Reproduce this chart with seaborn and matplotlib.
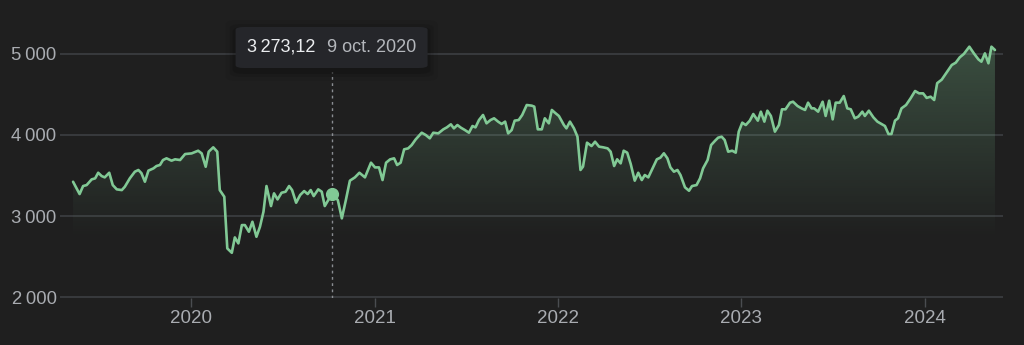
import matplotlib
matplotlib.use("Agg")
import numpy as np
import pandas as pd
import matplotlib.pyplot as plt
import matplotlib.dates as mdates
from matplotlib.colors import to_rgb
from matplotlib.patches import FancyBboxPatch
from matplotlib.ticker import FuncFormatter
import seaborn as sns

# weekly closes
dates = [
    "2019-05-12", "2019-05-25", "2019-06-01", "2019-06-08", "2019-06-18", "2019-06-25",
    "2019-07-01", "2019-07-08", "2019-07-14", "2019-07-23", "2019-07-30", "2019-08-07",
    "2019-08-17", "2019-08-23", "2019-09-02", "2019-09-12", "2019-09-19", "2019-09-25",
    "2019-10-02", "2019-10-09", "2019-10-19", "2019-10-25", "2019-11-01", "2019-11-07",
    "2019-11-14", "2019-11-24", "2019-12-01", "2019-12-11", "2019-12-21",
    "2020-01-03", "2020-01-16", "2020-01-23", "2020-01-31", "2020-02-06", "2020-02-15",
    "2020-02-23", "2020-02-28", "2020-03-08", "2020-03-14", "2020-03-23", "2020-03-29",
    "2020-04-05", "2020-04-12", "2020-04-18", "2020-04-26", "2020-05-03", "2020-05-11",
    "2020-05-18", "2020-05-25", "2020-05-31", "2020-06-09", "2020-06-15", "2020-06-22",
    "2020-06-30", "2020-07-08", "2020-07-15", "2020-07-21", "2020-07-29", "2020-08-06",
    "2020-08-14", "2020-08-21", "2020-08-27", "2020-09-02", "2020-09-11", "2020-09-18",
    "2020-09-24", "2020-10-01", "2020-10-09", "2020-10-20", "2020-10-28", "2020-11-05",
    "2020-11-13", "2020-11-23", "2020-12-02", "2020-12-13", "2020-12-25",
    "2021-01-02", "2021-01-10", "2021-01-17", "2021-01-24", "2021-02-01", "2021-02-09",
    "2021-02-15", "2021-02-22", "2021-03-01", "2021-03-09", "2021-03-16", "2021-03-24",
    "2021-04-05", "2021-04-13", "2021-04-21", "2021-04-28", "2021-05-08", "2021-05-18",
    "2021-05-25", "2021-06-02", "2021-06-08", "2021-06-15", "2021-06-22", "2021-06-30",
    "2021-07-08", "2021-07-15", "2021-07-21", "2021-07-28", "2021-08-05", "2021-08-12",
    "2021-08-20", "2021-08-27", "2021-09-04", "2021-09-11", "2021-09-18", "2021-09-24",
    "2021-10-01", "2021-10-07", "2021-10-15", "2021-10-22", "2021-10-31", "2021-11-10",
    "2021-11-15", "2021-11-22", "2021-11-30", "2021-12-06", "2021-12-14", "2021-12-20",
    "2021-12-26",
    "2022-01-03", "2022-01-13", "2022-01-18", "2022-01-25", "2022-02-02", "2022-02-09",
    "2022-02-15", "2022-02-20", "2022-02-28", "2022-03-09", "2022-03-16", "2022-03-24",
    "2022-04-01", "2022-04-10", "2022-04-16", "2022-04-23", "2022-04-29", "2022-05-06",
    "2022-05-12", "2022-05-19", "2022-05-26", "2022-06-03", "2022-06-10", "2022-06-17",
    "2022-06-23", "2022-06-30", "2022-07-07", "2022-07-17", "2022-07-24", "2022-07-31",
    "2022-08-07", "2022-08-13", "2022-08-20", "2022-08-27", "2022-09-02", "2022-09-11",
    "2022-09-19", "2022-09-25", "2022-10-04", "2022-10-11", "2022-10-17", "2022-10-26",
    "2022-11-02", "2022-11-10", "2022-11-16", "2022-11-23", "2022-11-29", "2022-12-06",
    "2022-12-14", "2022-12-21", "2022-12-27",
    "2023-01-03", "2023-01-10", "2023-01-18", "2023-01-25", "2023-02-03", "2023-02-09",
    "2023-02-16", "2023-02-22", "2023-03-01", "2023-03-09", "2023-03-17", "2023-03-23",
    "2023-03-30", "2023-04-08", "2023-04-14", "2023-04-23", "2023-05-01", "2023-05-08",
    "2023-05-14", "2023-05-21", "2023-05-26", "2023-06-03", "2023-06-12", "2023-06-18",
    "2023-06-25", "2023-07-02", "2023-07-08", "2023-07-16", "2023-07-24", "2023-07-31",
    "2023-08-07", "2023-08-15", "2023-08-22", "2023-08-30", "2023-09-04", "2023-09-12",
    "2023-09-21", "2023-09-29", "2023-10-07", "2023-10-14", "2023-10-21", "2023-10-27",
    "2023-11-03", "2023-11-09", "2023-11-16", "2023-11-25", "2023-12-04", "2023-12-13",
    "2023-12-21", "2023-12-29",
    "2024-01-05", "2024-01-13", "2024-01-20", "2024-01-26", "2024-02-04", "2024-02-14",
    "2024-02-24", "2024-03-03", "2024-03-11", "2024-03-19", "2024-03-30", "2024-04-08",
    "2024-04-17", "2024-04-23", "2024-04-30", "2024-05-07", "2024-05-13", "2024-05-20",
]
closes = [
    3423, 3271, 3370, 3382, 3452, 3465,
    3534, 3493, 3477, 3534, 3382, 3329,
    3320, 3361, 3465, 3547, 3568, 3530,
    3423, 3560, 3588, 3617, 3630, 3691,
    3712, 3683, 3700, 3691, 3765,
    3773, 3806, 3773, 3608, 3794, 3848,
    3794, 3320, 3238, 2600, 2546, 2736,
    2662, 2888, 2888, 2806, 2929, 2744,
    2867, 3053, 3370, 3123, 3280, 3205,
    3287, 3300, 3370, 3320, 3164, 3259,
    3308, 3271, 3320, 3246, 3329, 3300,
    3123, 3197, 3273, 3197, 2971, 3197,
    3436, 3477, 3534, 3477, 3658,
    3600, 3600, 3444, 3658, 3699, 3712,
    3630, 3658, 3823, 3835, 3876, 3946,
    4028, 4000, 3959, 4028, 4020, 4070,
    4094, 4132, 4082, 4123, 4090, 4061,
    4028, 4111, 4094, 4185, 4247, 4144,
    4185, 4206, 4165, 4136, 4165, 4020,
    4061, 4177, 4185, 4247, 4370, 4362,
    4350, 4070, 4070, 4206, 4144, 4309,
    4276,
    4235, 4123, 4082, 4165, 4082, 3979,
    3568, 3609, 3905, 3864, 3917, 3856,
    3848, 3835, 3794, 3617, 3700, 3650,
    3806, 3782, 3642, 3436, 3534, 3444,
    3506, 3477, 3568, 3700, 3720, 3774,
    3712, 3600, 3547, 3568, 3506, 3354,
    3312, 3370, 3382, 3465, 3588, 3691,
    3876, 3930, 3967, 3979, 3938, 3794,
    3806, 3782, 4041,
    4152, 4123, 4177, 4259, 4177, 4288,
    4165, 4300, 4235, 4041, 4123, 4317,
    4317, 4399, 4411, 4358, 4329, 4309,
    4399, 4329, 4329, 4288, 4411, 4235,
    4423, 4193, 4399, 4399, 4481, 4329,
    4317, 4206, 4227, 4288, 4235, 4300,
    4218, 4165, 4136, 4111, 4012, 4012,
    4177, 4206, 4329, 4370, 4452, 4543,
    4514, 4514,
    4458, 4473, 4432, 4640, 4683, 4774,
    4864, 4893, 4959, 5000, 5090, 5008,
    4934, 4905, 5008, 4885, 5090, 5049,
]

hover_date = "2020-10-09"
hover_value = 3273.12
hover_value_label = "3\u202f273,12"
hover_date_label = "9 oct. 2020"
y_ticks = [2000, 3000, 4000, 5000]

BG = "#1f1f1f"
LINE = "#81c995"
GRID = "#3c3f42"
TXT = "#a9acb1"
FILL_FLOOR = 2700

df = pd.DataFrame({"date": pd.to_datetime(dates), "close": closes})

sns.set_theme(style="dark", rc={
    "axes.facecolor": BG,
    "figure.facecolor": BG,
    "grid.color": GRID,
    "axes.edgecolor": BG,
})
plt.rcParams["font.family"] = ["Liberation Sans", "DejaVu Sans"]

fig = plt.figure(figsize=(10.24, 3.45), dpi=100)
ax = fig.add_axes([60 / 1024, 47 / 345, 943 / 1024, 268 / 345])

sns.lineplot(data=df, x="date", y="close", color=LINE, linewidth=1.9, ax=ax, zorder=3)

# gradient under the line
xnum = mdates.date2num(df["date"])
poly = ax.fill_between(df["date"], df["close"], FILL_FLOOR, facecolor="none", edgecolor="none")
grad = np.zeros((256, 1, 4))
grad[:, 0, :3] = to_rgb(LINE)
grad[:, 0, 3] = np.linspace(0.0, 0.28, 256)
im = ax.imshow(grad, extent=[xnum[0], xnum[-1], FILL_FLOOR, df["close"].max()],
               origin="lower", aspect="auto", zorder=1, interpolation="bilinear")
im.set_clip_path(poly.get_paths()[0], transform=ax.transData)

ax.set_xlim(df["date"].min() - pd.Timedelta(days=26), df["date"].max() + pd.Timedelta(days=16))
ax.set_ylim(1988, 5296)

ax.set_yticks(y_ticks)
ax.yaxis.set_major_formatter(FuncFormatter(lambda v, p: f"{v:,.0f}".replace(",", "\u202f")))
ax.xaxis.set_major_locator(mdates.YearLocator())
ax.xaxis.set_major_formatter(mdates.DateFormatter("%Y"))
ax.yaxis.grid(True, color=GRID, linewidth=1.2)
ax.xaxis.grid(False)
ax.tick_params(axis="y", length=0, pad=2.5, labelsize=13.3, labelcolor=TXT)
ax.tick_params(axis="x", length=6.5, width=1, color="#4a4d51", pad=2, labelsize=13.5,
               labelcolor=TXT, bottom=True, direction="out")
ax.set_xlabel("")
ax.set_ylabel("")
sns.despine(ax=ax, left=True, bottom=True)

# hover state
hd = pd.Timestamp(hover_date)
ax.axvline(hd, ymin=0, ymax=(298 - 72) / 268, color="#8a8d92", linewidth=1,
           linestyle=(0, (2, 2.5)), zorder=2)
ax.plot([hd], [hover_value], "o", ms=8.5, color=LINE, zorder=4)

px = ax.transData.transform((mdates.date2num(hd), 0))[0]
W, H = 1024, 345
for grow, alpha in [(10, 0.06), (6, 0.08), (3, 0.12)]:
    fig.add_artist(FancyBboxPatch(((px - 96.7 - grow) / W, (H - 68 - grow - 3) / H),
                                  (192 + 2 * grow) / W, (41 + 2 * grow) / H,
                                  boxstyle="round,pad=0,rounding_size=0.012",
                                  transform=fig.transFigure, facecolor="black",
                                  edgecolor="none", alpha=alpha, zorder=5))
fig.add_artist(FancyBboxPatch(((px - 96.7) / W, (H - 68) / H), 192 / W, 41 / H,
                              boxstyle="round,pad=0,rounding_size=0.008",
                              transform=fig.transFigure, facecolor="#25262a",
                              edgecolor="none", zorder=6))
fig.text((px - 16.7) / W, 1 - 47 / H, hover_value_label, ha="right", va="center",
         color="#eceef0", fontsize=13, zorder=7)
fig.text((px - 5.7) / W, 1 - 47 / H, hover_date_label, ha="left", va="center",
         color="#b4b7bc", fontsize=13, zorder=7)

fig.savefig("out.png", dpi=100, facecolor=BG)
